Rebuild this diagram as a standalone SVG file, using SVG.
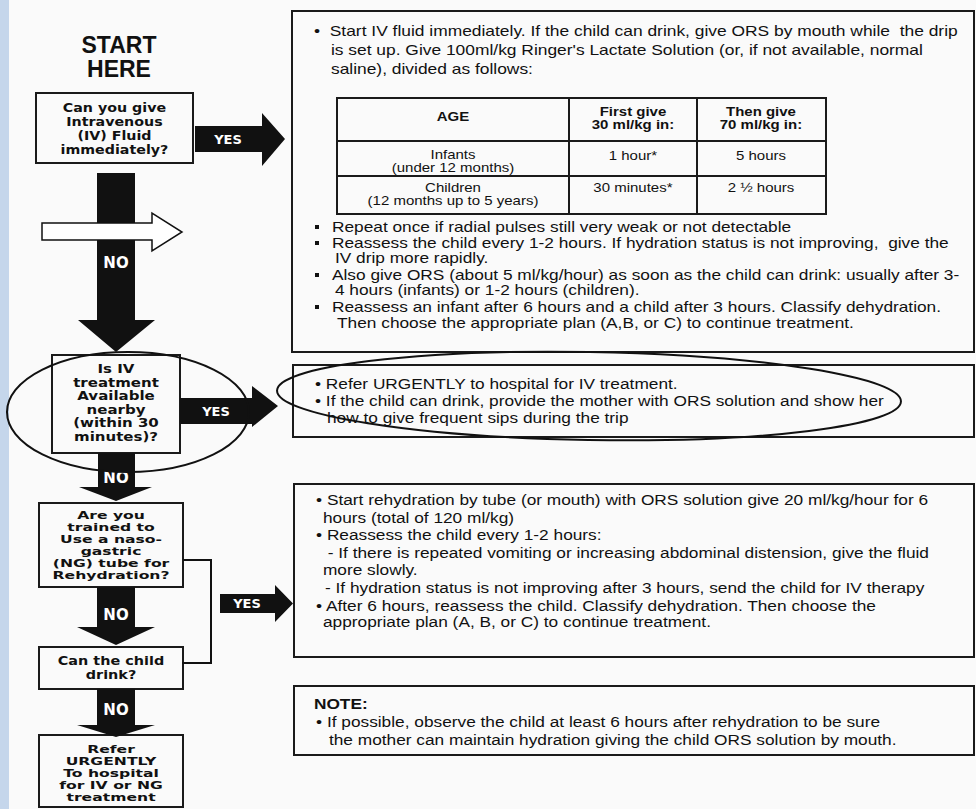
<svg xmlns="http://www.w3.org/2000/svg" width="976" height="809" viewBox="0 0 976 809">
<style>
.bg{fill:#fafafa}
.box{fill:none;stroke:#1a1a1a;stroke-width:2}
.cell{fill:none;stroke:#1a1a1a;stroke-width:2}
.q{font-family:"DejaVu Sans",sans-serif;font-weight:bold;fill:#111;text-anchor:middle}
.lbl{font-family:"DejaVu Sans",sans-serif;font-weight:bold;font-size:13px;fill:#fff;text-anchor:middle}
.no{font-family:"DejaVu Sans",sans-serif;font-weight:bold;font-size:15px;fill:#fff;text-anchor:middle}
.t{font-family:"Liberation Sans",Arial,sans-serif;font-size:15px;fill:#111}
.t14{font-family:"Liberation Sans",Arial,sans-serif;font-size:14px;fill:#111}
.cb{font-family:"Liberation Sans",Arial,sans-serif;font-size:13px;fill:#111;font-weight:bold;text-anchor:middle}
.cn{font-family:"Liberation Sans",Arial,sans-serif;font-size:12.4px;fill:#111;text-anchor:middle}
.tb{font-family:"Liberation Sans",Arial,sans-serif;font-size:15px;fill:#111;font-weight:bold}
.arr{fill:#111}
.hollow{fill:#fff;stroke:#111;stroke-width:1.5}
.ell{fill:none;stroke:#111;stroke-width:2}
.line{fill:none;stroke:#111;stroke-width:2}
</style>
<rect class="bg" x="0" y="0" width="976" height="809"/>
<rect x="0" y="0" width="9" height="809" fill="#c5d6eb"/>

<g id="start">
<text x="119" y="53" style="font-family:'Liberation Sans',Arial,sans-serif;font-weight:bold;font-size:23px;fill:#111;text-anchor:middle">START</text>
<text x="119" y="77" style="font-family:'Liberation Sans',Arial,sans-serif;font-weight:bold;font-size:23px;fill:#111;text-anchor:middle">HERE</text>
</g>

<g id="q1">
<rect class="box" x="36" y="93" width="157" height="70"/>
<g transform="scale(1.14,1)" class="q" font-size="12.5">
<text x="100.4" y="112">Can you give</text>
<text x="100.4" y="126">Intravenous</text>
<text x="100.4" y="140">(IV) Fluid</text>
<text x="100.4" y="154">immediately?</text>
</g>
</g>

<g id="q2">
<rect class="box" x="52" y="355" width="128" height="98"/>
<g transform="scale(1.25,1)" class="q" font-size="12">
<text x="92.8" y="373">Is IV</text>
<text x="92.8" y="387">treatment</text>
<text x="92.8" y="400">Available</text>
<text x="92.8" y="414">nearby</text>
<text x="92.8" y="427">(within 30</text>
<text x="92.8" y="441">minutes)?</text>
</g>
</g>

<g id="q3">
<rect class="box" x="39" y="503" width="144" height="84"/>
<g transform="scale(1.42,1)" class="q" font-size="11">
<text x="78.2" y="519">Are you</text>
<text x="78.2" y="531">trained to</text>
<text x="78.2" y="543">Use a naso-</text>
<text x="78.2" y="555">gastric</text>
<text x="78.2" y="567">(NG) tube for</text>
<text x="78.2" y="579">Rehydration?</text>
</g>
</g>

<g id="q4">
<rect class="box" x="39" y="647" width="144" height="42"/>
<g transform="scale(1.2,1)" class="q" font-size="12">
<text x="92.5" y="665">Can the child</text>
<text x="92.5" y="679">drink?</text>
</g>
</g>

<g id="refer-ng">
<rect class="box" x="39" y="735" width="144" height="72"/>
<g transform="scale(1.42,1)" class="q" font-size="11">
<text x="78.2" y="753">Refer</text>
<text x="78.2" y="765">URGENTLY</text>
<text x="78.2" y="777">To hospital</text>
<text x="78.2" y="789">for IV or NG</text>
<text x="78.2" y="801">treatment</text>
</g>
</g>

<g id="plan-iv">
<rect class="box" x="292" y="11" width="682" height="341"/>
<g transform="scale(1.16,1)">
<text class="t" x="270.7" y="36">•&#160; Start IV fluid immediately. If the child can drink, give ORS by mouth while&#160; the drip</text>
<text class="t" x="285.3" y="55">is set up. Give 100ml/kg Ringer's Lactate Solution (or, if not available, normal</text>
<text class="t" x="285.3" y="74">saline), divided as follows:</text>
</g>
<g transform="scale(1.153,1)">
<text class="cb" x="392.9" y="121">AGE</text>
<text class="cb" x="549" y="116">First give</text>
<text class="cb" x="549" y="129">30 ml/kg in:</text>
<text class="cb" x="660" y="116">Then give</text>
<text class="cb" x="660" y="129">70 ml/kg in:</text>
</g>
<g transform="scale(1.21,1)">
<text class="cn" x="374.4" y="159.5">Infants</text>
<text class="cn" x="374.4" y="172.5">(under 12 months)</text>
<text class="cn" x="523.1" y="160">1 hour*</text>
<text class="cn" x="628.9" y="160">5 hours</text>
<text class="cn" x="374.4" y="192.5">Children</text>
<text class="cn" x="374.4" y="205.5">(12 months up to 5 years)</text>
<text class="cn" x="523.1" y="192">30 minutes*</text>
<text class="cn" x="628.9" y="192">2 ½ hours</text>
</g>
<g transform="scale(1.236,1)">
<text class="t14" x="268.6" y="232">Repeat once if radial pulses still very weak or not detectable</text>
<text class="t14" x="268.6" y="248">Reassess the child every 1-2 hours. If hydration status is not improving,&#160; give the</text>
<text class="t14" x="271" y="263">IV drip more rapidly.</text>
<text class="t14" x="268.6" y="280">Also give ORS (about 5 ml/kg/hour) as soon as the child can drink: usually after 3-</text>
<text class="t14" x="271" y="295">4 hours (infants) or 1-2 hours (children).</text>
<text class="t14" x="268.6" y="312">Reassess an infant after 6 hours and a child after 3 hours. Classify dehydration.</text>
<text class="t14" x="272.7" y="328">Then choose the appropriate plan (A,B, or C) to continue treatment.</text>
</g>
<rect class="cell" x="337" y="98" width="489" height="116"/>
<line class="cell" x1="337" y1="141" x2="826" y2="141"/>
<line class="cell" x1="337" y1="176" x2="826" y2="176"/>
<line class="cell" x1="569" y1="98" x2="569" y2="214"/>
<line class="cell" x1="697" y1="98" x2="697" y2="214"/>
<rect x="315" y="225" width="4" height="4" fill="#111"/>
<rect x="315" y="241" width="4" height="4" fill="#111"/>
<rect x="315" y="273" width="4" height="4" fill="#111"/>
<rect x="315" y="305" width="4" height="4" fill="#111"/>
</g>

<g id="refer-iv">
<rect class="box" x="293" y="365" width="681" height="72"/>
<g transform="scale(1.153,1)">
<text class="t" x="273.2" y="389">• Refer URGENTLY to hospital for IV treatment.</text>
<text class="t" x="273.2" y="406">• If the child can drink, provide the mother with ORS solution and show her</text>
<text class="t" x="283.6" y="423">how to give frequent sips during the trip</text>
</g>
</g>

<g id="plan-ng">
<rect class="box" x="294" y="484" width="680" height="173"/>
<g transform="scale(1.153,1)">
<text class="t" x="274.1" y="505">• Start rehydration by tube (or mouth) with ORS solution give 20 ml/kg/hour for 6</text>
<text class="t" x="280.1" y="523">hours (total of 120 ml/kg)</text>
<text class="t" x="274.1" y="540">• Reassess the child every 1-2 hours:</text>
<text class="t" x="280.1" y="558">&#160;- If there is repeated vomiting or increasing abdominal distension, give the fluid</text>
<text class="t" x="280.1" y="575">more slowly.</text>
<text class="t" x="281.9" y="593">- If hydration status is not improving after 3 hours, send the child for IV therapy</text>
<text class="t" x="274.1" y="611">• After 6 hours, reassess the child. Classify dehydration. Then choose the</text>
<text class="t" x="280.1" y="627">appropriate plan (A, B, or C) to continue treatment.</text>
</g>
</g>

<g id="note">
<rect class="box" x="294" y="686" width="680" height="69"/>
<g transform="scale(1.153,1)">
<text class="tb" x="272.3" y="709">NOTE:</text>
<text class="t" x="274.1" y="727">• If possible, observe the child at least 6 hours after rehydration to be sure</text>
<text class="t" x="285.3" y="745">the mother can maintain hydration giving the child ORS solution by mouth.</text>
</g>
</g>

<g id="connectors">
<polygon class="arr" points="195,126 262,126 262,113 285,139 262,166 262,152 195,152"/>
<text class="lbl" x="228" y="144">YES</text>
<polygon class="arr" points="97,173 135,173 135,320 155,320 116,352 78,320 97,320"/>
<polygon class="hollow" points="42,223 152,223 152,213 182,232 152,251 152,240 42,240"/>
<text class="no" x="116" y="268">NO</text>
<polygon class="arr" points="180,398 252,398 252,386 278,406 252,427 252,424 180,424"/>
<text class="lbl" x="216" y="416">YES</text>
<polygon class="arr" points="98,453 135,453 135,487 152,487 116,501 79,487 98,487"/>
<text class="no" x="116" y="483">NO</text>
<polyline class="line" points="183,560 211,560 211,663 182,663"/>
<polygon class="arr" points="220,594 275,594 275,585 293,603.5 275,622 275,613 220,613"/>
<text class="lbl" x="247" y="608">YES</text>
<polygon class="arr" points="97,587 135,587 135,627 155,627 116,645 77,627 97,627"/>
<text class="no" x="116" y="620">NO</text>
<polygon class="arr" points="97,689 135,689 135,725 155,725 116,737 77,725 97,725"/>
<text class="no" x="116" y="715">NO</text>
<ellipse class="ell" cx="128" cy="412" rx="121" ry="60"/>
<ellipse class="ell" cx="589" cy="396" rx="312" ry="44" transform="rotate(1 589 396)"/>
</g>
</svg>
